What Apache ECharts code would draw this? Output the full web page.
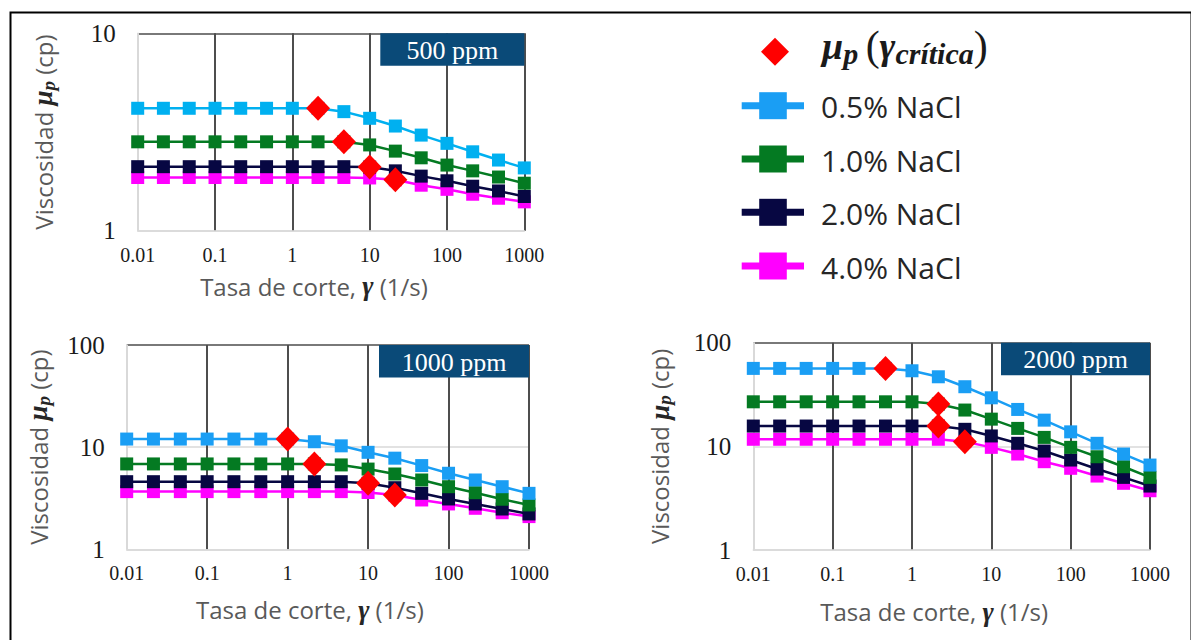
<!DOCTYPE html>
<html>
<head>
<meta charset="utf-8">
<script src="https://cdn.jsdelivr.net/npm/echarts@6/dist/echarts.min.js"></script>
<style>
  html, body { margin: 0; padding: 0; background: #ffffff; }
  #chart { width: 1191px; height: 640px; }
</style>
</head>
<body>
<div id="chart"></div>
<script>
// Shear rates (1/s) at which viscosity was measured
const shearRates = [0.01, 0.0215, 0.0464, 0.1, 0.215, 0.464, 1, 2.15, 4.64, 10, 21.5, 46.4, 100, 215, 464, 1000];
const xTickLabels = ['0.01', '0.1', '1', '10', '100', '1000'];
const yTickLabels = ['1', '10', '100'];
const seriesNames = ['0.5% NaCl', '1.0% NaCl', '2.0% NaCl', '4.0% NaCl'];
const panelTitles = ['500 ppm', '1000 ppm', '2000 ppm'];
const critLabel = 'μp (γcrítica)';

// Polymer viscosity (cp), 500 ppm
const mu500_05 = [4.17, 4.17, 4.17, 4.17, 4.17, 4.17, 4.17, 4.17, 4.01, 3.71, 3.39, 3.05, 2.77, 2.51, 2.28, 2.08];
const mu500_10 = [2.82, 2.82, 2.82, 2.82, 2.82, 2.82, 2.82, 2.82, 2.82, 2.72, 2.53, 2.34, 2.15, 2.01, 1.87, 1.74];
const mu500_20 = [2.11, 2.11, 2.11, 2.11, 2.11, 2.11, 2.11, 2.11, 2.11, 2.10, 2.01, 1.89, 1.79, 1.68, 1.59, 1.49];
const mu500_40 = [1.86, 1.86, 1.86, 1.86, 1.86, 1.86, 1.86, 1.86, 1.86, 1.85, 1.81, 1.70, 1.62, 1.53, 1.46, 1.40];

// Polymer viscosity (cp), 1000 ppm
const mu1000_05 = [12.0, 12.0, 12.0, 12.0, 12.0, 12.0, 12.0, 11.3, 10.3, 8.9, 7.8, 6.6, 5.55, 4.77, 4.10, 3.53];
const mu1000_10 = [6.85, 6.85, 6.85, 6.85, 6.85, 6.85, 6.85, 6.85, 6.7, 6.1, 5.46, 4.77, 4.10, 3.58, 3.09, 2.72];
const mu1000_20 = [4.59, 4.59, 4.59, 4.59, 4.59, 4.59, 4.59, 4.59, 4.59, 4.43, 4.01, 3.53, 3.11, 2.78, 2.48, 2.22];
const mu1000_40 = [3.67, 3.67, 3.67, 3.67, 3.67, 3.67, 3.67, 3.67, 3.67, 3.6, 3.40, 3.04, 2.78, 2.52, 2.28, 2.09];

// Polymer viscosity (cp), 2000 ppm
const mu2000_05 = [56.5, 56.5, 56.5, 56.5, 56.5, 56.5, 53.6, 46.9, 37.6, 29.4, 22.7, 17.9, 13.8, 10.7, 8.43, 6.6];
const mu2000_10 = [26.9, 26.9, 26.9, 26.9, 26.9, 26.9, 26.9, 25.6, 22.4, 18.3, 14.9, 12.2, 9.78, 7.94, 6.36, 5.02];
const mu2000_20 = [15.7, 15.7, 15.7, 15.7, 15.7, 15.7, 15.7, 15.7, 14.6, 12.6, 10.7, 9.01, 7.38, 6.04, 5.02, 4.14];
const mu2000_40 = [11.7, 11.7, 11.7, 11.7, 11.7, 11.7, 11.7, 11.7, 11.1, 9.78, 8.43, 7.11, 6.14, 5.17, 4.40, 3.73];

// Index into shearRates of the critical shear rate, per salinity (0.5, 1.0, 2.0, 4.0 %)
const crit500 = [7, 8, 9, 10];
const crit1000 = [6, 7, 9, 10];
const crit2000 = [5, 7, 7, 8];

const colorsTop = ['#00b0f0', '#047a22', '#070742', '#ff00ff'];
const colorsBottom = ['#1a9ef4', '#047a22', '#070742', '#ff00ff'];

const panels = [
  { values: [mu500_05, mu500_10, mu500_20, mu500_40], crit: crit500, yMax: 10, colors: colorsTop,
    grid: { left: 137.7, top: 33.3, width: 386.6, height: 197.4 }, nameGapY: 80, nameGapX: 42, padX: [0, 34, 0, 0], boxW: 144 },
  { values: [mu1000_05, mu1000_10, mu1000_20, mu1000_40], crit: crit1000, yMax: 100, colors: colorsBottom,
    grid: { left: 126.7, top: 345, width: 402.3, height: 204.3 }, nameGapY: 74, nameGapX: 47, padX: [0, 36, 0, 0], boxW: 150 },
  { values: [mu2000_05, mu2000_10, mu2000_20, mu2000_40], crit: crit2000, yMax: 100, colors: colorsBottom,
    grid: { left: 753.3, top: 342.7, width: 396.7, height: 207.3 }, nameGapY: 79, nameGapX: 48, padX: [0, 35, 0, 0], boxW: 149 }
];

const serifFont = 'Liberation Serif';
const sansFont = 'Open Sans';
const nameColor = '#595959';
const darkGrid = '#4d4d4d';
const lightGrid = '#d9d9d9';

function labelFor(list, value) {
  const hit = list.find(t => Math.abs(Number(t) - value) < value * 1e-6);
  return hit !== undefined ? hit : '';
}

const richMath = {
  mu: { fontFamily: serifFont, fontStyle: 'italic', fontWeight: 'bold', fontSize: 27, color: '#262626' },
  sub: { fontFamily: serifFont, fontStyle: 'italic', fontWeight: 'bold', fontSize: 19, color: '#262626', padding: [10, 0, 0, 0] },
  g: { fontFamily: serifFont, fontStyle: 'italic', fontWeight: 'bold', fontSize: 27, color: '#262626' }
};

const grids = [], xAxes = [], yAxes = [], series = [], graphics = [];

panels.forEach((p, pi) => {
  grids.push(Object.assign({ containLabel: false }, p.grid));
  xAxes.push({
    type: 'log', logBase: 10, gridIndex: pi, min: 0.01, max: 1000, interval: 1,
    name: 'Tasa de corte, {g|γ} (1/s)', nameLocation: 'middle', nameGap: p.nameGapX,
    nameTextStyle: { fontFamily: sansFont, fontSize: 24, color: nameColor, padding: p.padX, rich: richMath },
    axisLine: { show: true, lineStyle: { color: lightGrid, width: 1.5 } },
    axisTick: { show: false },
    axisLabel: { margin: 14, fontFamily: serifFont, fontSize: 20, color: '#1a1a1a',
      formatter: v => labelFor(xTickLabels, v) },
    splitLine: { show: true, lineStyle: { color: [lightGrid, darkGrid, darkGrid, darkGrid, darkGrid, darkGrid], width: 2 } }
  });
  const yColors = p.yMax === 10 ? [lightGrid, darkGrid] : [lightGrid, lightGrid, darkGrid];
  yAxes.push({
    type: 'log', logBase: 10, gridIndex: pi, min: 1, max: p.yMax, interval: 1,
    name: 'Viscosidad {mu|μ}{sub|p} (cp)', nameLocation: 'middle', nameGap: p.nameGapY, nameRotate: 90,
    nameTextStyle: { fontFamily: sansFont, fontSize: 24, color: nameColor, rich: richMath },
    axisLine: { show: true, lineStyle: { color: lightGrid, width: 1.5 } },
    axisTick: { show: false },
    axisLabel: { margin: 22, fontFamily: serifFont, fontSize: 25, color: '#1a1a1a',
      formatter: v => labelFor(yTickLabels, v) },
    splitLine: { show: true, lineStyle: { color: yColors, width: 1.5 } }
  });

  // Draw 4.0 % first so the lower-salinity curves sit on top
  [3, 2, 1, 0].forEach((s, order) => {
    series.push({
      name: seriesNames[s], type: 'line', xAxisIndex: pi, yAxisIndex: pi,
      data: shearRates.map((x, i) => [x, p.values[s][i]]),
      symbol: 'rect', symbolSize: 13, showSymbol: true,
      lineStyle: { color: p.colors[s], width: 2.5 },
      itemStyle: { color: p.colors[s] },
      z: 2 + order, animation: false, silent: true
    });
  });
  series.push({
    name: critLabel, type: 'scatter', xAxisIndex: pi, yAxisIndex: pi,
    data: p.crit.map((idx, s) => [shearRates[idx], p.values[s][idx]]),
    symbol: 'diamond', symbolSize: [24, 25],
    itemStyle: { color: '#ff0000', opacity: 1 }, z: 10, animation: false, silent: true
  });

  // Polymer concentration tag in the top-right corner of each plot
  const boxW = p.boxW, boxH = 32.5;
  const bx = p.grid.left + p.grid.width - boxW, by = p.grid.top;
  graphics.push({
    type: 'rect', left: bx, top: by, z: 20,
    shape: { width: boxW, height: boxH },
    style: { fill: '#0a4a78' }
  });
  graphics.push({
    type: 'text', x: bx + boxW / 2, y: by + boxH / 2 + 1, z: 21,
    style: { text: panelTitles[pi], fill: '#ffffff', font: '26px "Liberation Serif"', align: 'center', verticalAlign: 'middle' }
  });
});

// Outer frame
graphics.push({
  type: 'rect', left: 8, top: 10, z: 30, silent: true,
  shape: { width: 1181, height: 660 },
  style: { fill: 'none', stroke: '#000000', lineWidth: 2 }
});

// Legend
const legendRows = [105.7, 159, 212.3, 266];
graphics.push({
  type: 'polygon', z: 20,
  shape: { points: [[775, 37.7], [789, 51.7], [775, 65.7], [761, 51.7]] },
  style: { fill: '#ff0000' }
});
graphics.push({
  type: 'text', x: 822, y: 46, z: 20,
  style: {
    text: '{mu|μ}{sub|p}{sp| }{par|(}{mu|γ}{sub|crítica}{par|)}',
    verticalAlign: 'middle', align: 'left',
    rich: {
      mu: { fontFamily: serifFont, fontStyle: 'italic', fontWeight: 'bold', fontSize: 38, fill: '#1a1a1a' },
      sub: { fontFamily: serifFont, fontStyle: 'italic', fontWeight: 'bold', fontSize: 30, fill: '#1a1a1a', padding: [14, 0, 0, 0] },
      sp: { fontFamily: serifFont, fontSize: 30, fill: '#1a1a1a' },
      par: { fontFamily: serifFont, fontSize: 42, fill: '#1a1a1a' }
    }
  }
});
seriesNames.forEach((nm, s) => {
  const y = legendRows[s];
  graphics.push({
    type: 'line', z: 20,
    shape: { x1: 741.7, y1: y, x2: 804, y2: y },
    style: { stroke: colorsBottom[s], lineWidth: 7 }
  });
  graphics.push({
    type: 'rect', z: 21,
    shape: { x: 773 - 13.8, y: y - 13.5, width: 27.6, height: 27 },
    style: { fill: colorsBottom[s] }
  });
  graphics.push({
    type: 'text', x: 821, y: y + 1, z: 21,
    style: { text: nm, font: '30px "Open Sans"', fill: '#262626', verticalAlign: 'middle', align: 'left' }
  });
});

const chart = echarts.init(document.getElementById('chart'), null, { renderer: 'svg' });
chart.setOption({
  animation: false,
  backgroundColor: '#ffffff',
  grid: grids,
  xAxis: xAxes,
  yAxis: yAxes,
  series: series,
  graphic: graphics
});
</script>
</body>
</html>
